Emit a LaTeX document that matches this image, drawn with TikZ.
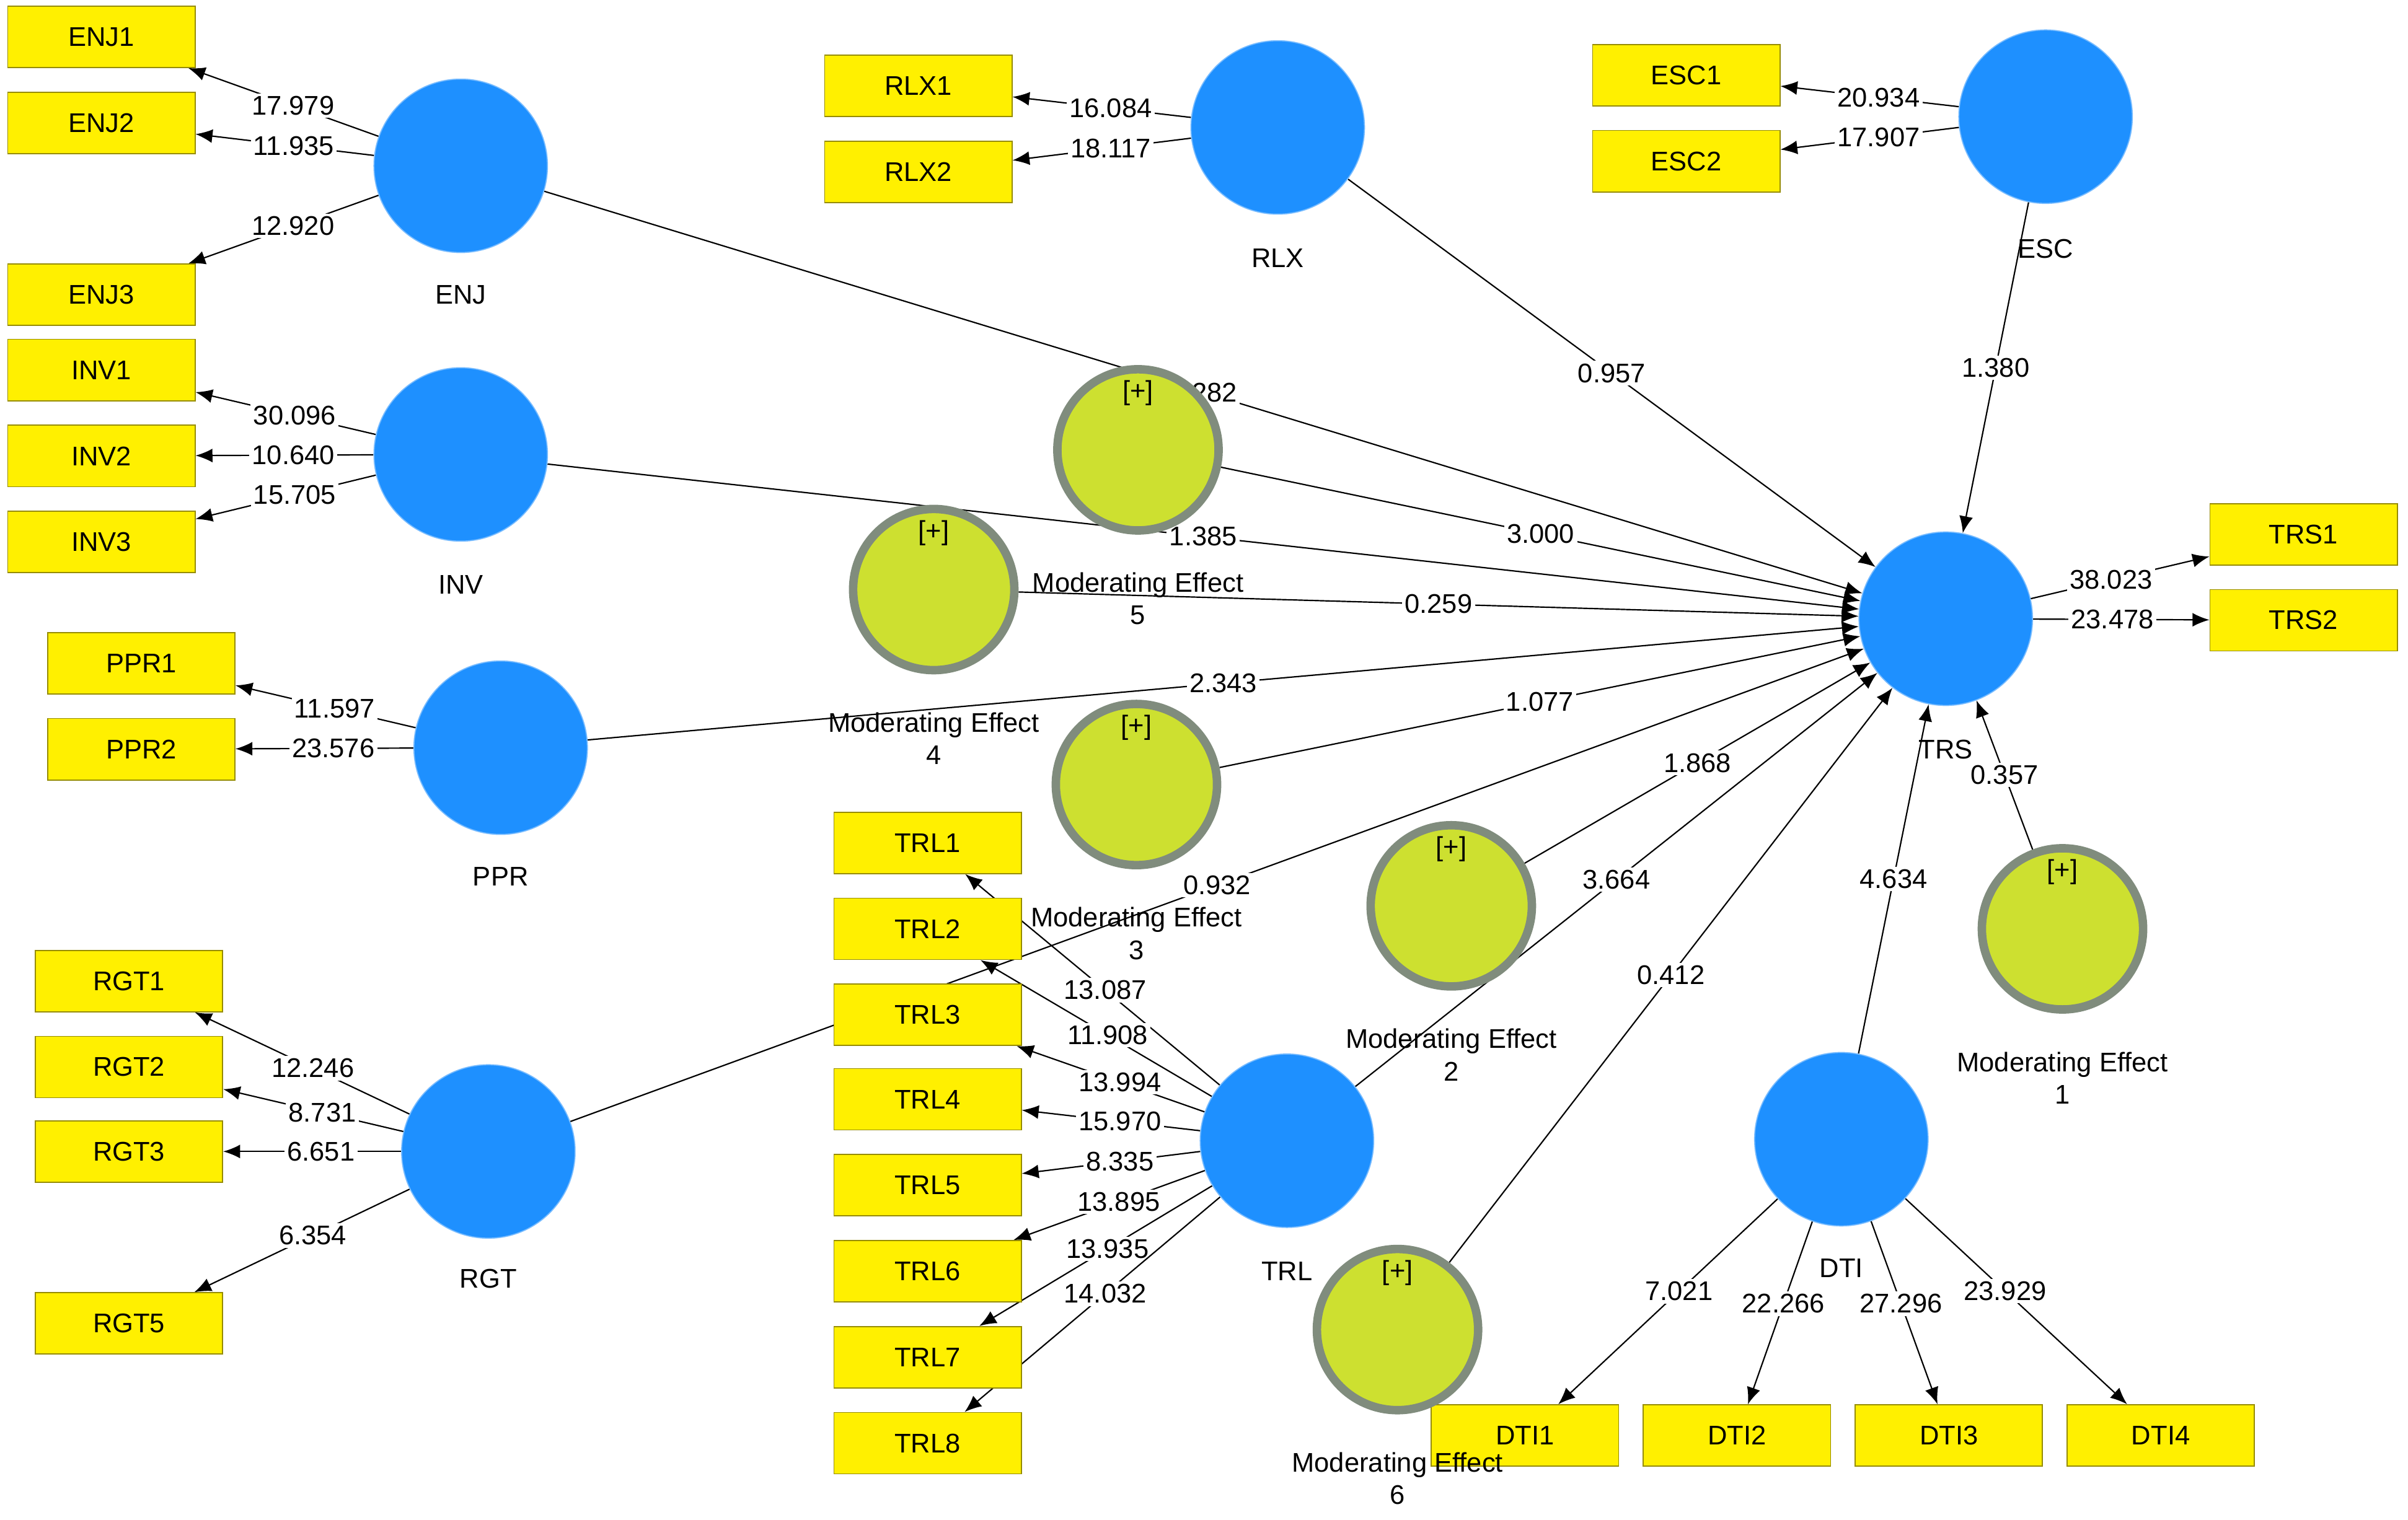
\documentclass[tikz,border=0pt]{standalone}
\usepackage{fontspec}
\setmainfont{Liberation Sans}
\usetikzlibrary{arrows.meta}
\pgfdeclarelayer{bg}
\pgfsetlayers{bg,main}
\definecolor{lvblue}{RGB}{30,144,255}
\definecolor{boxy}{RGB}{255,240,0}
\definecolor{modg}{RGB}{205,224,48}
\definecolor{modb}{RGB}{128,140,125}
\tikzset{
 ind/.style={draw={rgb,255:red,150;green,140;blue,0},fill=boxy,minimum width=2.44cm,minimum height=0.8cm,inner sep=0,font=\fontsize{10}{12}\selectfont},
 lv/.style={circle,draw=lvblue!60,fill=lvblue,minimum size=2.26cm,inner sep=0},
 md/.style={circle,draw=modb,line width=0.11cm,fill=modg,minimum size=2.1cm,inner sep=0},
 plus/.style={font=\fontsize{10}{12}\selectfont},
 lbl/.style={font=\fontsize{10}{12}\selectfont,align=center},
 ar/.style={-{Latex[length=0.22cm,width=0.18cm]},black,line width=0.5pt},
 w/.style={fill=white,inner sep=1pt,font=\fontsize{10}{12}\selectfont}
}
\begin{document}
\begin{tikzpicture}[x=0.02cm,y=-0.02cm]
\useasboundingbox (0,0) rectangle (1568,990);
% indicators
\foreach \n/\x/\y in {ENJ1/66/24,ENJ2/66/80,ENJ3/66/192,INV1/66/241,INV2/66/297,INV3/66/353,PPR1/92/432,PPR2/92/488,RGT1/84/639,RGT2/84/695,RGT3/84/750,RGT5/84/862,RLX1/598/56,RLX2/598/112,ESC1/1098/49,ESC2/1098/105,TRS1/1500/348,TRS2/1500/404,TRL1/604/549,TRL2/604/605,TRL3/604/661,TRL4/604/716,TRL5/604/772,TRL6/604/828,TRL7/604/884,TRL8/604/940,DTI1/993/935,DTI2/1131/935,DTI3/1269/935,DTI4/1407/935}
  \node[ind] (\n) at (\x,\y) {\n};
% latent variables
\foreach \n/\x/\y/\ly in {ENJ/300/108/192,INV/300/296/381,PPR/326/487/571,RGT/318/750/833,RLX/832/83/168,ESC/1332/76/162,TRS/1267/403/488,TRL/838/743/828,DTI/1199/742/826}{
  \node[lv] (\n) at (\x,\y) {};
  \node[lbl] at (\x,\ly) {\n};}
% moderating effects
\foreach \n/\x/\y/\k in {ME5/741/293/5,ME4/608/384/4,ME3/740/511/3,ME2/945/590/2,ME1/1343/605/1,ME6/910/866/6}{
  \node[md] (\n) at (\x,\y) {};
  \node[plus] at (\x,\y-37) {[+]};
  \node[lbl] at (\x,\y+97) {Moderating Effect\\\k};}
\begin{pgfonlayer}{bg}
% outer loadings
\foreach \a/\b/\v in {ENJ/ENJ1/17.979,ENJ/ENJ2/11.935,ENJ/ENJ3/12.920,INV/INV1/30.096,INV/INV2/10.640,INV/INV3/15.705,PPR/PPR1/11.597,PPR/PPR2/23.576,RGT/RGT1/12.246,RGT/RGT2/8.731,RGT/RGT3/6.651,RGT/RGT5/6.354,RLX/RLX1/16.084,RLX/RLX2/18.117,ESC/ESC1/20.934,ESC/ESC2/17.907,TRS/TRS1/38.023,TRS/TRS2/23.478,TRL/TRL1/13.087,TRL/TRL2/11.908,TRL/TRL3/13.994,TRL/TRL4/15.970,TRL/TRL5/8.335,TRL/TRL6/13.895,TRL/TRL7/13.935,TRL/TRL8/14.032,DTI/DTI1/7.021,DTI/DTI2/22.266,DTI/DTI3/27.296,DTI/DTI4/23.929}
  \draw[ar] (\a) -- node[w,pos=0.45]{\v} (\b);
% structural paths
\foreach \a/\v in {ENJ/0.282,INV/1.385,ME5/3.000,ME4/0.259,PPR/2.343,ME3/1.077,RGT/0.932,ME2/1.868,TRL/3.664,ME6/0.412,DTI/4.634,ME1/0.357,RLX/0.957,ESC/1.380}
  \draw[ar] (\a) -- node[w,pos=0.5]{\v} (TRS);
\end{pgfonlayer}
\end{tikzpicture}
\end{document}
